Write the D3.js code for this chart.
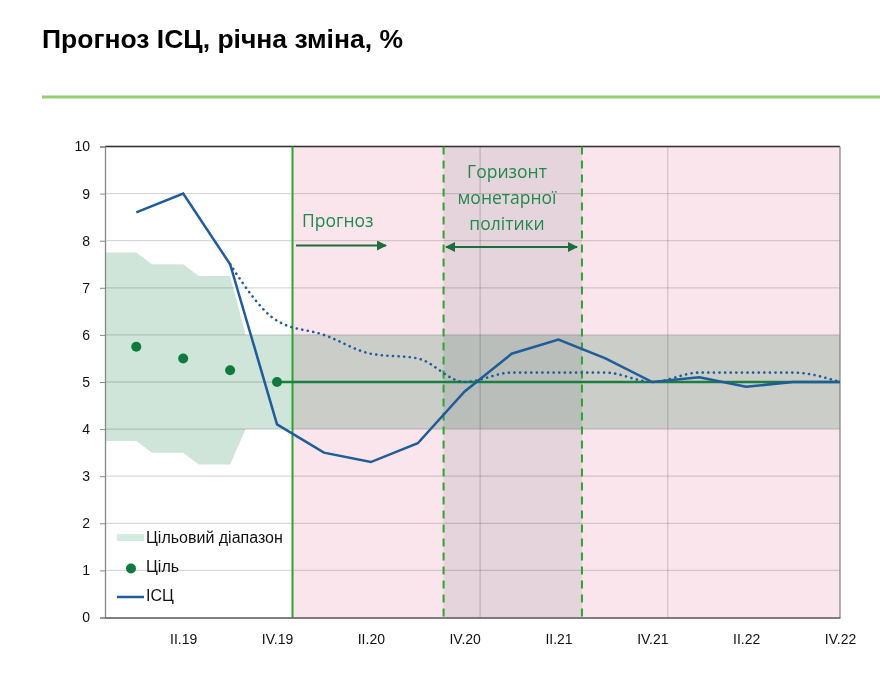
<html>
<script src='https://d3js.org/d3.v7.min.js'></script>

<style>
body { margin: 0; background: #fff; }
text { font-family: "Liberation Sans", Arial, sans-serif; }
.note { font-family: "Open Sans", Lato, sans-serif; fill: #1f8a4c; font-size: 17.5px; }
</style>

<body onload='init()'>
<svg width="880" height="674" class="chart"></svg>

<script>
// quarters I.19 .. IV.22
var quarters = ["I.19","II.19","III.19","IV.19","I.20","II.20","III.20","IV.20",
                "I.21","II.21","III.21","IV.21","I.22","II.22","III.22","IV.22"];
// CPI, annual change
var cpi = [8.6, 9.0, 7.5, 4.1, 3.5, 3.3, 3.7, 4.8, 5.6, 5.9, 5.5, 5.0, 5.1, 4.9, 5.0, 5.0];
// previous forecast (dotted), starts at III.19
var cpiPrev = [null, null, 7.5, 6.3, 6.0, 5.6, 5.5, 5.0, 5.2, 5.2, 5.2, 5.0, 5.2, 5.2, 5.2, 5.0];
// inflation target points
var target = [5.75, 5.5, 5.25, 5.0];
// target band per quarter (monthly steps inside each quarter)
var bandLow  = [3.75, 3.5, 3.25, 4, 4, 4, 4, 4, 4, 4, 4, 4, 4, 4, 4, 4];
var bandHigh = [7.75, 7.5, 7.25, 6, 6, 6, 6, 6, 6, 6, 6, 6, 6, 6, 6, 6];
// forecast starts, policy horizon, year grid (in quarter index units)
var forecastStart = 3.33;
var horizon = [6.55, 9.5];
var yearGrid = [7.33, 11.33];
var yTicks = [0, 1, 2, 3, 4, 5, 6, 7, 8, 9, 10];

function init() {
    var svg = d3.select(".chart");
    var left = 105, right = 840, top = 146.5, bottom = 617.5;

    var x = d3.scaleLinear().domain([-2/3, 15]).range([left, right]);
    var y = d3.scaleLinear().domain([0, 10]).range([bottom, top]);

    // title
    svg.append("text").attr("x", 42).attr("y", 48)
       .style("font-size", "26.5px").style("font-weight", "bold").attr("fill", "#000")
       .text("Прогноз ІСЦ, річна зміна, %");
    svg.append("line").attr("x1", 42).attr("x2", 880).attr("y1", 97).attr("y2", 97)
       .attr("stroke", "#93cf6f").attr("stroke-width", 3);

    var g = svg.append("g");

    // forecast (pink) area and policy horizon
    g.append("rect").attr("x", x(forecastStart)).attr("y", top)
     .attr("width", x(15) - x(forecastStart)).attr("height", bottom - top)
     .attr("fill", "#fbe5ec");
    g.append("rect").attr("x", x(horizon[0])).attr("y", top)
     .attr("width", x(horizon[1]) - x(horizon[0])).attr("height", bottom - top)
     .attr("fill", "#e5d4db");

    // grid
    g.selectAll(".hg").data(yTicks.slice(1)).enter().append("line")
     .attr("x1", left).attr("x2", right)
     .attr("y1", function(d) { return y(d); }).attr("y2", function(d) { return y(d); })
     .attr("stroke", "#d9d9d9").attr("stroke-width", 1.3)
     .style("mix-blend-mode", "multiply");
    g.selectAll(".vg").data(yearGrid).enter().append("line")
     .attr("x1", function(d) { return x(d); }).attr("x2", function(d) { return x(d); })
     .attr("y1", top).attr("y2", bottom)
     .attr("stroke", "#d9d9d9").attr("stroke-width", 1.3)
     .style("mix-blend-mode", "multiply");

    // target band, monthly steps
    var bandPts = [];
    bandLow.forEach(function(lo, q) {
        for (var k = 0; k < 3; k++) bandPts.push({ i: q - 2/3 + k/3, lo: lo, hi: bandHigh[q] });
    });
    g.append("path").datum(bandPts)
     .attr("d", d3.area().x(function(d) { return x(d.i); })
        .y0(function(d) { return y(d.lo); }).y1(function(d) { return y(d.hi); }))
     .attr("fill", "#cfe5da").style("mix-blend-mode", "multiply");

    // border and axes
    g.append("line").attr("x1", left).attr("x2", right).attr("y1", top).attr("y2", top)
     .attr("stroke", "#333").attr("stroke-width", 1.3);
    g.append("line").attr("x1", right).attr("x2", right).attr("y1", top).attr("y2", bottom)
     .attr("stroke", "#888").attr("stroke-width", 1.3);

    var yAxis = d3.axisLeft(y).tickValues(yTicks).tickSize(5).tickPadding(10);
    var ya = svg.append("g").attr("transform", "translate(" + left + ",0)").call(yAxis);
    ya.select(".domain").attr("stroke", "#888").attr("stroke-width", 1.3);
    ya.selectAll(".tick line").attr("stroke", "#888");
    ya.selectAll("text").style("font-size", "14px").attr("fill", "#111");

    var xa = svg.append("g").attr("transform", "translate(0," + bottom + ")")
        .call(d3.axisBottom(x).tickValues(d3.range(1, 16, 2)).tickSize(0).tickPadding(17)
              .tickFormat(function(d) { return quarters[d]; }));
    xa.select(".domain").attr("stroke", "#555").attr("stroke-width", 1.5);
    xa.selectAll("text").style("font-size", "14px").attr("fill", "#111");

    // forecast start, horizon lines
    g.append("line").attr("x1", x(forecastStart)).attr("x2", x(forecastStart))
     .attr("y1", top).attr("y2", bottom).attr("stroke", "#2ba52e").attr("stroke-width", 2);
    g.selectAll(".hz").data(horizon).enter().append("line")
     .attr("x1", function(d) { return x(d); }).attr("x2", function(d) { return x(d); })
     .attr("y1", top).attr("y2", bottom)
     .attr("stroke", "#2ba52e").attr("stroke-width", 2).attr("stroke-dasharray", "8,6");

    // target line and dots
    g.append("line").attr("x1", x(target.length - 1)).attr("x2", x(15))
     .attr("y1", y(5)).attr("y2", y(5)).attr("stroke", "#1a8040").attr("stroke-width", 2.5);
    g.selectAll(".dot").data(target).enter().append("circle")
     .attr("cx", function(d, i) { return x(i); }).attr("cy", function(d) { return y(d); })
     .attr("r", 5).attr("fill", "#0f7a3e");

    // CPI lines
    var prevPts = cpiPrev.map(function(v, i) { return { i: i, v: v }; })
                         .filter(function(d) { return d.v !== null; });
    g.append("path").datum(prevPts)
     .attr("d", d3.line().curve(d3.curveMonotoneX)
        .x(function(d) { return x(d.i); }).y(function(d) { return y(d.v); }))
     .attr("fill", "none").attr("stroke", "#1f5c98").attr("stroke-width", 2.6)
     .attr("stroke-linecap", "round").attr("stroke-dasharray", "0.1,5.5");
    g.append("path").datum(cpi)
     .attr("d", d3.line().x(function(d, i) { return x(i); }).y(function(d) { return y(d); }))
     .attr("fill", "none").attr("stroke", "#1f5c98").attr("stroke-width", 2.5);

    // annotations
    var defs = svg.append("defs");
    defs.append("marker").attr("id", "ah").attr("viewBox", "0 0 10 10")
        .attr("refX", 9).attr("refY", 5).attr("markerWidth", 5).attr("markerHeight", 5)
        .attr("orient", "auto-start-reverse")
        .append("path").attr("d", "M0,0 L10,5 L0,10 Z").attr("fill", "#1b6e3c");

    svg.append("text").attr("class", "note").attr("x", 302).attr("y", 227).text("Прогноз");
    svg.append("line").attr("x1", 296).attr("x2", 386).attr("y1", 245.5).attr("y2", 245.5)
       .attr("stroke", "#1b6e3c").attr("stroke-width", 2).attr("marker-end", "url(#ah)");

    var hz = svg.append("text").attr("class", "note").attr("text-anchor", "middle");
    ["Горизонт", "монетарної", "політики"].forEach(function(s, i) {
        hz.append("tspan").attr("x", 507).attr("y", 178 + i * 26).text(s);
    });
    svg.append("line").attr("x1", 446).attr("x2", 577).attr("y1", 247).attr("y2", 247)
       .attr("stroke", "#1b6e3c").attr("stroke-width", 2)
       .attr("marker-start", "url(#ah)").attr("marker-end", "url(#ah)");

    // legend
    var lg = svg.append("g");
    lg.append("rect").attr("x", 117).attr("y", 534).attr("width", 27).attr("height", 7).attr("fill", "#d4ebdf");
    lg.append("circle").attr("cx", 131).attr("cy", 568.5).attr("r", 5).attr("fill", "#0f7a3e");
    lg.append("line").attr("x1", 117).attr("x2", 144).attr("y1", 597).attr("y2", 597)
      .attr("stroke", "#1f5c98").attr("stroke-width", 2.5);
    [["Цільовий діапазон", 542.5], ["Ціль", 572], ["ІСЦ", 601]].forEach(function(d) {
        lg.append("text").attr("x", 146).attr("y", d[1])
          .style("font-size", "16px").attr("fill", "#111").text(d[0]);
    });
}
</script>
</body>
</html>
